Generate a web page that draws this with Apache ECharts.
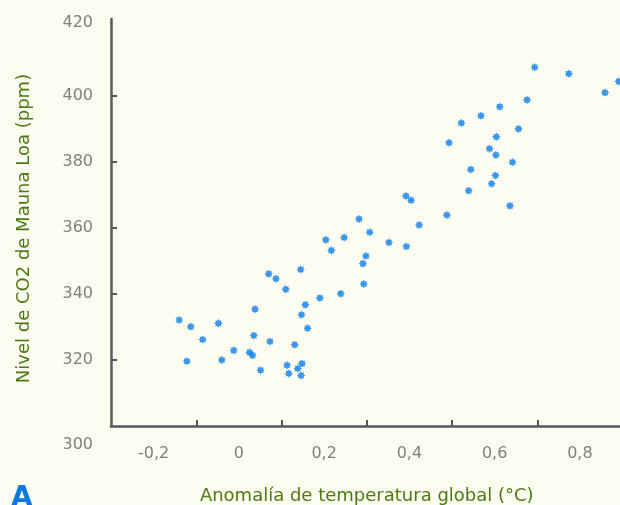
<!DOCTYPE html>
<html>
<head>
<meta charset="utf-8">
<script src="https://cdn.jsdelivr.net/npm/echarts@6/dist/echarts.min.js"></script>
<style>
html,body{margin:0;padding:0;background:#fcfcf1;}
#c{width:620px;height:505px;}
</style>
</head>
<body>
<div id="c"></div>
<script>
// Temperature anomaly (°C, as read against the printed labels) and CO2 (ppm)
const tempAnomaly = [
  0.145, 0.070, 0.087, 0.110, 0.190, 0.156, 0.038, 0.147, -0.140, -0.113,
  -0.048, 0.161, -0.085, 0.035, 0.073, 0.131, -0.012, 0.025, 0.032, -0.122,
  -0.040, 0.051, 0.113, 0.148, 0.138, 0.117, 0.146,
  0.392, 0.404, 0.423, 0.282, 0.307, 0.204, 0.247, 0.217, 0.352, 0.393,
  0.298, 0.291, 0.293, 0.239,
  0.676, 0.612, 0.568, 0.522, 0.656, 0.604, 0.493, 0.588, 0.603, 0.642,
  0.544, 0.602, 0.593, 0.539, 0.636, 0.488,
  0.694, 0.774, 0.891, 0.859
];
const co2 = [
  347.4, 346.1, 344.6, 341.4, 338.8, 336.7, 335.4, 333.7, 332.1, 330.1,
  331.1, 329.6, 326.2, 327.4, 325.6, 324.6, 322.9, 322.3, 321.4, 319.6,
  320.0, 316.9, 318.4, 318.9, 317.4, 315.9, 315.3,
  369.7, 368.4, 360.9, 362.7, 358.7, 356.4, 357.1, 353.2, 355.6, 354.4,
  351.5, 349.2, 343.0, 340.1,
  398.8, 396.7, 394.0, 391.8, 390.0, 387.6, 385.8, 384.0, 382.1, 379.9,
  377.7, 375.9, 373.4, 371.3, 366.7, 363.9,
  408.7, 406.7, 404.4, 401.0
];
const xLabelValues = [-0.2, 0, 0.2, 0.4, 0.6, 0.8];
const xTickValues = [-0.1, 0.1, 0.3, 0.5, 0.7, 0.9];
const yLabelValues = [300, 320, 340, 360, 380, 400, 420];
const yTickValues = [320, 340, 360, 380, 400];
const xTitle = 'Anomalía de temperatura global (°C)';
const yTitle = 'Nivel de CO2 de Mauna Loa (ppm)';
const panelLetter = 'A';

const points = tempAnomaly.map((t, i) => [t, co2[i]]);
const FONT = 'DejaVu Sans';
const LABEL_COLOR = '#808080';
const star = 'path://M4,0L2.4,1L2.83,2.83L1,2.4L0,4L-1,2.4L-2.83,2.83L-2.4,1L-4,0L-2.4,-1L-2.83,-2.83L-1,-2.4L0,-4L1,-2.4L2.83,-2.83L2.4,-1Z';

const chart = echarts.init(document.getElementById('c'), null, {renderer: 'canvas'});
chart.setOption({
  backgroundColor: '#fcfcf1',
  animation: false,
  grid: {left: 111, top: 19, width: 511.5, height: 407, containLabel: false, outerBoundsMode: 'none'},
  xAxis: {
    type: 'value', min: -0.3, max: 0.9,
    name: xTitle, nameLocation: 'middle', nameGap: 61,
    nameTextStyle: {color: '#4d7a12', fontSize: 18, fontFamily: FONT},
    axisLine: {show: true, onZero: false, lineStyle: {color: '#55585c', width: 2.5}},
    axisTick: {show: true, inside: true, length: 6, lineStyle: {color: '#55585c', width: 2}, customValues: xTickValues},
    axisLabel: {
      customValues: xLabelValues, margin: 20, color: LABEL_COLOR, fontSize: 16, fontFamily: FONT,
      formatter: v => (Math.abs(v) < 1e-9 ? '0' : v.toFixed(1).replace('.', ','))
    },
    splitLine: {show: false}
  },
  yAxis: {
    type: 'value', min: 300, max: 423.3,
    name: yTitle, nameLocation: 'middle', nameGap: 78,
    nameTextStyle: {color: '#4d7a12', fontSize: 18, fontFamily: FONT, padding: [0, 12, 0, 0]},
    axisLine: {show: true, onZero: false, lineStyle: {color: '#55585c', width: 2.5}},
    axisTick: {show: true, inside: true, length: 6, lineStyle: {color: '#55585c', width: 2}, customValues: yTickValues},
    axisLabel: {
      customValues: yLabelValues, margin: 18, color: LABEL_COLOR, fontSize: 16, fontFamily: FONT,
      formatter: v => v === 300 ? '{lo|300}' : (v === 420 ? '{hi|420}' : '{n|' + v + '}'),
      rich: {
        lo: {padding: [38, 0, 0, 0], color: LABEL_COLOR, fontSize: 16, fontFamily: FONT},
        hi: {padding: [0, 0, 15, 0], color: LABEL_COLOR, fontSize: 16, fontFamily: FONT},
        n: {color: LABEL_COLOR, fontSize: 16, fontFamily: FONT}
      }
    },
    splitLine: {show: false}
  },
  series: [{
    type: 'scatter',
    data: points,
    symbol: star,
    symbolSize: 8.5,
    itemStyle: {color: '#0a7de8'}
  }],
  graphic: [{
    type: 'text', left: 11, top: 485,
    style: {text: panelLetter, fill: '#0a78e0', font: 'bold 28px "DejaVu Sans"'}
  }]
});
</script>
</body>
</html>
